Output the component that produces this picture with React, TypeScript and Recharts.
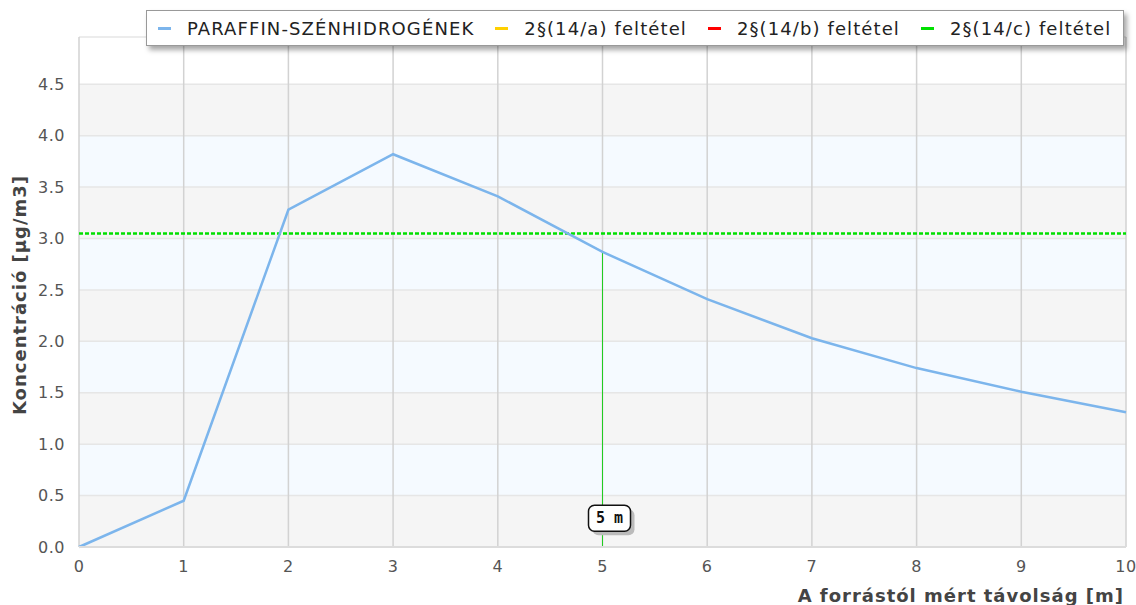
import {
  CartesianGrid,
  Line,
  LineChart,
  ReferenceDot,
  ReferenceLine,
  XAxis,
  YAxis,
} from "recharts";

const distances = [0, 1, 2, 3, 4, 5, 6, 7, 8, 9, 10];
const paraffin = [0, 0.45, 3.28, 3.82, 3.41, 2.87, 2.41, 2.03, 1.74, 1.51, 1.31];
const xTicks = [0, 1, 2, 3, 4, 5, 6, 7, 8, 9, 10];
const yTicks = [0, 0.5, 1, 1.5, 2, 2.5, 3, 3.5, 4, 4.5];
const limitC = 3.05;
const markerDistance = 5;
const markerLabel = "5 m";

const legendItems = [
  { label: "PARAFFIN-SZÉNHIDROGÉNEK", color: "#7cb5ec" },
  { label: "2§(14/a) feltétel", color: "#ffd000" },
  { label: "2§(14/b) feltétel", color: "#ff0000" },
  { label: "2§(14/c) feltétel", color: "#00e000" },
];

const data = distances.map((d, i) => ({ x: d, value: paraffin[i] }));

const FONT = "'DejaVu Sans', sans-serif";

const GRAY = "#f5f5f5";
const BLUE = "#f5faff";

function MarkerTag(props: { cx?: number; cy?: number }) {
  const { cx = 0, cy = 0 } = props;
  const w = 42;
  const h = 26;
  const x = cx - 14;
  const y = cy - h / 2;
  return (
    <g>
      <rect x={x + 4} y={y + 4} width={w} height={h} rx={6} fill="#bbb" />
      <rect
        x={x}
        y={y}
        width={w}
        height={h}
        rx={6}
        fill="#fff"
        stroke="#111"
        strokeWidth={1.5}
      />
      <text
        x={x + w / 2}
        y={y + h / 2 + 5}
        textAnchor="middle"
        fontFamily="'DejaVu Sans Mono', monospace"
        fontWeight="bold"
        fontSize={15}
        fill="#111"
      >
        {markerLabel}
      </text>
    </g>
  );
}

function ChartLegend() {
  return (
    <div
      style={{
        position: "absolute",
        left: 146,
        top: 10,
        width: 978,
        height: 36,
        background: "#fff",
        border: "1px solid #999",
        boxShadow: "3px 4px 5px rgba(0,0,0,0.35)",
        display: "flex",
        alignItems: "center",
        fontFamily: FONT,
        fontSize: 18,
        letterSpacing: 1.1,
        color: "#222",
        paddingLeft: 11,
        boxSizing: "border-box",
        whiteSpace: "nowrap",
      }}
    >
      {legendItems.map((item) => (
        <div
          key={item.label}
          style={{ display: "flex", alignItems: "center", marginRight: 21 }}
        >
          <span
            style={{
              display: "inline-block",
              width: 13,
              height: 3,
              background: item.color,
              marginRight: 16,
            }}
          />
          <span>{item.label}</span>
        </div>
      ))}
    </div>
  );
}

export default function App() {
  return (
    <div
      style={{
        position: "absolute",
        left: 0,
        top: 0,
        width: 1136,
        height: 605,
        background: "#fff",
      }}
    >
      <LineChart
        width={1136}
        height={605}
        data={data}
        margin={{ top: 37, right: 10, left: 0, bottom: 0 }}
      >
        <CartesianGrid
          vertical={false}
          stroke="#e6e6e6"
          strokeWidth={1.5}
          horizontalFill={["#fff", GRAY, BLUE, GRAY, BLUE, GRAY, BLUE, GRAY, BLUE, GRAY]}
          fillOpacity={1}
        />
        <CartesianGrid horizontal={false} stroke="#d2d2d2" strokeWidth={1.5} />
        <XAxis
          dataKey="x"
          type="number"
          domain={[0, 10]}
          ticks={xTicks}
          axisLine={{ stroke: "#dcdcdc", strokeWidth: 2 }}
          tickLine={false}
          tickSize={6}
          tickMargin={8}
          height={58}
          tick={{ fontSize: 16, fill: "#555", fontFamily: FONT, letterSpacing: 0.5 }}
          label={{
            value: "A forrástól mért távolság [m]",
            position: "insideBottomRight",
            offset: 0,
            dx: -2,
            dy: -3,
            style: {
              fontFamily: FONT,
              fontWeight: "bold",
              fontSize: 18,
              letterSpacing: 1,
              fill: "#444",
            },
          }}
        />
        <YAxis
          type="number"
          domain={[0, 4.96]}
          ticks={yTicks}
          width={79}
          axisLine={false}
          tickLine={false}
          tickSize={6}
          tickMargin={8}
          tickFormatter={(v: number) => v.toFixed(1)}
          tick={{ fontSize: 16, fill: "#555", fontFamily: FONT, letterSpacing: 0.5 }}
          label={{
            value: "Koncentráció [µg/m3]",
            angle: -90,
            position: "insideLeft",
            offset: 0,
            dx: 20,
            dy: 3,
            style: {
              fontFamily: FONT,
              fontWeight: "bold",
              fontSize: 18,
              letterSpacing: 1,
              fill: "#444",
              textAnchor: "middle",
            },
          }}
        />
        <ReferenceLine
          y={limitC}
          stroke="#00e000"
          strokeWidth={2.5}
          strokeDasharray="4 2"
        />
        <ReferenceLine
          segment={[
            { x: markerDistance, y: 0 },
            { x: markerDistance, y: paraffin[distances.indexOf(markerDistance)] },
          ]}
          stroke="#22cc22"
          strokeWidth={1}
        />
        <Line
          type="linear"
          dataKey="value"
          stroke="#7cb5ec"
          strokeWidth={2.5}
          dot={false}
          isAnimationActive={false}
        />
        <ReferenceDot
          x={markerDistance}
          y={0.28}
          r={0}
          shape={(p: { cx?: number; cy?: number }) => <MarkerTag {...p} />}
        />
      </LineChart>
      <ChartLegend />
    </div>
  );
}
